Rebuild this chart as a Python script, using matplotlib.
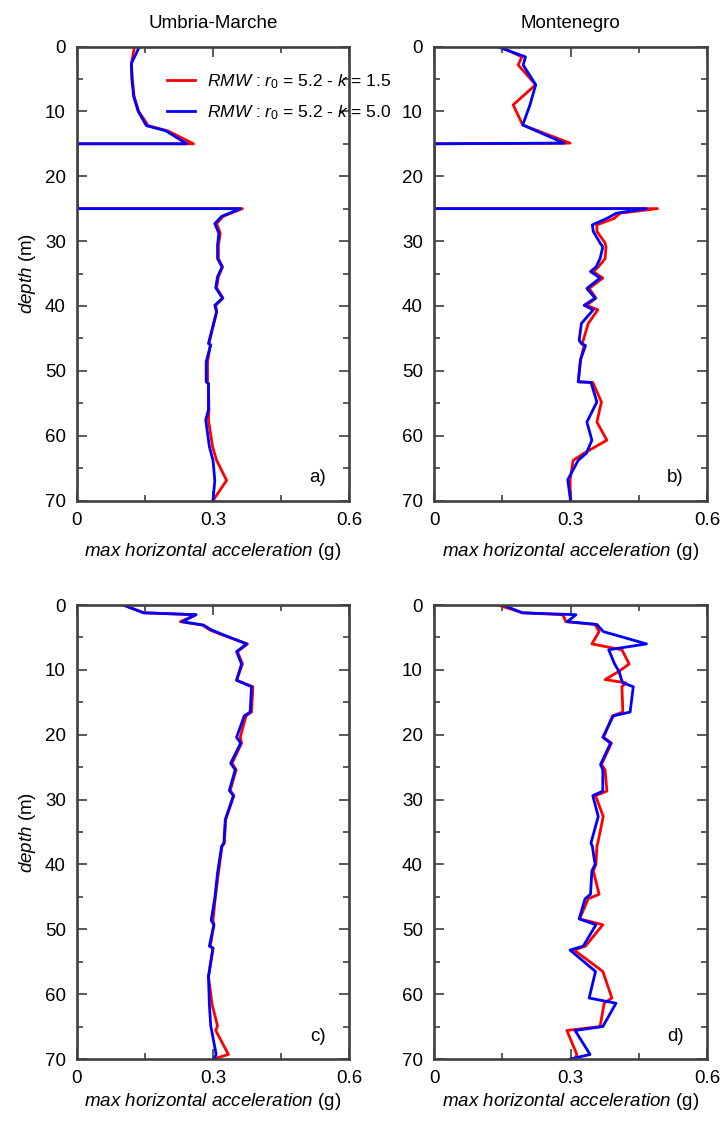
import matplotlib
matplotlib.use("Agg")
import matplotlib.pyplot as plt
from matplotlib.ticker import MultipleLocator, FixedLocator

plt.rcParams['font.family'] = ['Liberation Sans', 'DejaVu Sans']
plt.rcParams['mathtext.fontset'] = 'custom'
plt.rcParams['mathtext.rm'] = 'Liberation Sans'
plt.rcParams['mathtext.it'] = 'Liberation Sans:italic'
plt.rcParams['mathtext.bf'] = 'Liberation Sans:bold'

# ---------------- data ----------------
titles = ["Umbria-Marche", "Montenegro"]
panel_labels = ["a)", "b)", "c)", "d)"]
legend_labels = [r"$\mathit{RMW}$ : $\mathit{r}_0$ = 5.2 - $\mathit{k}$ = 1.5",
                 r"$\mathit{RMW}$ : $\mathit{r}_0$ = 5.2 - $\mathit{k}$ = 5.0"]
x_ticks = [0, 0.3, 0.6]
x_ticklabels = ["0", "0.3", "0.6"]
y_ticks = [0, 10, 20, 30, 40, 50, 60, 70]

# panel a
a_depth = [0, 2.6, 5, 7.7, 10, 12.2, 13, 15, 15, 25, 25, 26.2, 27.3, 28.8, 30.6, 32.7,
           34.0, 35.5, 37.2, 38.8, 39.9, 40.9, 45.8, 46.0, 48.6, 51.7, 52, 56, 57.6,
           61.7, 63.8, 66.9, 70]
a_k15 = [0.127, 0.12, 0.122, 0.126, 0.136, 0.157, 0.2, 0.257, 0, 0, 0.365, 0.322, 0.308,
         0.316, 0.312, 0.312, 0.321, 0.312, 0.308, 0.322, 0.306, 0.308, 0.291, 0.294,
         0.288, 0.288, 0.29, 0.291, 0.29, 0.299, 0.308, 0.33, 0.3]
a_k50 = [0.138, 0.12, 0.121, 0.125, 0.135, 0.153, 0.196, 0.242, 0, 0, 0.36, 0.319, 0.304,
         0.313, 0.31, 0.31, 0.32, 0.31, 0.306, 0.321, 0.304, 0.308, 0.29, 0.295, 0.285,
         0.285, 0.29, 0.29, 0.284, 0.292, 0.3, 0.304, 0.3]

# panel b
b_depth = [0, 1.6, 2.85, 5.9, 9.0, 12.1, 14.9, 15, 25, 25, 25.7, 26.5, 27.5, 28.5, 30.3,
           30.9, 32.7, 34.0, 34.7, 35.7, 37.3, 38.8, 39.9, 40.6, 42.7, 45.3, 45.8, 46.1,
           48.3, 51.7, 51.8, 54.8, 57.9, 60.7, 62.7, 63.8, 66.8, 70]
b_k15 = [0.145, 0.193, 0.185, 0.2235, 0.174, 0.195, 0.299, 0, 0, 0.491, 0.409, 0.396,
         0.358, 0.358, 0.376, 0.378, 0.376, 0.361, 0.35, 0.371, 0.341, 0.356, 0.335, 0.36,
         0.339, 0.328, 0.325, 0.33, 0.322, 0.317, 0.349, 0.368, 0.358, 0.38, 0.33, 0.306,
         0.299, 0.3]
b_k50 = [0.138, 0.201, 0.196, 0.2235, 0.211, 0.195, 0.286, 0, 0, 0.467, 0.401, 0.38,
         0.348, 0.35, 0.365, 0.371, 0.365, 0.356, 0.344, 0.365, 0.336, 0.354, 0.33, 0.35,
         0.324, 0.319, 0.324, 0.333, 0.322, 0.317, 0.345, 0.358, 0.336, 0.347, 0.335,
         0.317, 0.294, 0.3]

# panel c
c_depth = [0, 1.2, 1.5, 2.57, 3.1, 3.85, 4.6, 6.0, 7.2, 9.1, 11.6, 12.6, 16.5, 17.1,
           20.4, 21.3, 24.4, 25.4, 28.6, 29.4, 33.1, 36.7, 37.2, 41.3, 45.2, 48.6, 49.3,
           52.6, 52.9, 57.3, 61.6, 64.9, 65.6, 69.3, 70]
c_k15 = [0.102, 0.148, 0.2625, 0.228, 0.277, 0.293, 0.32, 0.376, 0.354, 0.365, 0.352,
         0.388, 0.385, 0.373, 0.36, 0.363, 0.342, 0.351, 0.338, 0.346, 0.328, 0.325, 0.32,
         0.312, 0.305, 0.3, 0.302, 0.294, 0.3, 0.29, 0.298, 0.31, 0.306, 0.334, 0.301]
c_k50 = [0.102, 0.146, 0.2625, 0.232, 0.279, 0.297, 0.323, 0.374, 0.352, 0.363, 0.352,
         0.385, 0.382, 0.369, 0.352, 0.361, 0.339, 0.349, 0.336, 0.345, 0.327, 0.324,
         0.319, 0.31, 0.304, 0.296, 0.302, 0.292, 0.3, 0.29, 0.292, 0.295, 0.297, 0.307,
         0.302]

# panel d
d_depth = [0, 1.2, 1.5, 2.57, 3.0, 4.1, 6.0, 6.9, 9.1, 10.3, 11.5, 12.0, 12.6, 16.5,
           17.1, 20.4, 21.3, 24.6, 25.4, 28.7, 29.4, 32.6, 36.7, 37.2, 40.0, 41.0, 44.6,
           45.3, 48.4, 49.3, 52.6, 53.2, 56.5, 60.6, 61.4, 65.0, 65.6, 69.3, 70]
d_k15 = [0.141, 0.194, 0.283, 0.29, 0.354, 0.363, 0.347, 0.413, 0.429, 0.405, 0.376,
         0.422, 0.413, 0.415, 0.392, 0.373, 0.39, 0.368, 0.376, 0.38, 0.355, 0.372, 0.36,
         0.358, 0.356, 0.35, 0.363, 0.339, 0.32, 0.371, 0.333, 0.308, 0.371, 0.391, 0.374,
         0.365, 0.292, 0.314, 0.31]
d_k50 = [0.151, 0.194, 0.312, 0.293, 0.358, 0.372, 0.467, 0.384, 0.397, 0.407, 0.412,
         0.415, 0.438, 0.431, 0.394, 0.371, 0.388, 0.366, 0.371, 0.371, 0.349, 0.361,
         0.345, 0.348, 0.354, 0.347, 0.344, 0.332, 0.319, 0.356, 0.328, 0.299, 0.355,
         0.341, 0.4, 0.371, 0.31, 0.343, 0.3]

panels = [(a_depth, a_k15, a_k50), (b_depth, b_k15, b_k50),
          (c_depth, c_k15, c_k50), (d_depth, d_k15, d_k50)]

# ---------------- figure ----------------
W, H = 724, 1125
fig = plt.figure(figsize=(W / 100, H / 100), dpi=100)

lefts = [77, 434]
widths = [272, 273]
tops = [46.5, 605]
bottoms = [500.5, 1059]

FS = 13.5
spine_col = '#404040'
xlabel = r"$\mathit{max\ horizontal\ acceleration}$ (g)"
ylabel = r"$\mathit{depth}$ (m)"

axes = []
for i, (depth, k15, k50) in enumerate(panels):
    row, col = divmod(i, 2)
    l = lefts[col] / W
    w = widths[col] / W
    b = 1 - bottoms[row] / H
    h = (bottoms[row] - tops[row]) / H
    ax = fig.add_axes([l, b, w, h])
    axes.append(ax)
    ax.plot(k15, depth, color='#ff0000', lw=2.0, label=legend_labels[0], zorder=2)
    ax.plot(k50, depth, color='#0000ff', lw=2.0, label=legend_labels[1], zorder=2.1)
    ax.set_xlim(0, 0.6)
    ax.set_ylim(70, 0)
    ax.xaxis.set_major_locator(FixedLocator(x_ticks))
    ax.set_xticklabels(x_ticklabels)
    ax.xaxis.set_minor_locator(FixedLocator([0.15, 0.45]))
    ax.yaxis.set_major_locator(FixedLocator(y_ticks))
    ax.yaxis.set_minor_locator(MultipleLocator(5))
    ax.tick_params(which='both', direction='in', top=True, right=True,
                   color=spine_col, width=1.2, labelsize=FS)
    ax.tick_params(which='major', length=7)
    ax.tick_params(which='minor', length=4)
    ax.tick_params(axis='x', which='major', pad=8)
    ax.tick_params(axis='y', which='major', pad=8)
    for s in ax.spines.values():
        s.set_color(spine_col)
        s.set_linewidth(1.9)
        s.set_zorder(3)
    ax.set_xlabel(xlabel, fontsize=FS, labelpad=9 if row == 0 else 3)
    if col == 0:
        ax.set_ylabel(ylabel, fontsize=FS, labelpad=5)
    if row == 0:
        ax.set_title(titles[col], fontsize=FS, pad=13)
    ax.text(0.915, 0.05, panel_labels[i], transform=ax.transAxes,
            ha='right', va='center', fontsize=FS)

leg = axes[0].legend(loc='upper left', bbox_to_anchor=(0.33, 0.943),
                     frameon=False, fontsize=12.5, handlelength=1.6,
                     handletextpad=0.7, labelspacing=0.68, borderpad=0,
                     borderaxespad=0)

fig.savefig("out.png", dpi=100)
